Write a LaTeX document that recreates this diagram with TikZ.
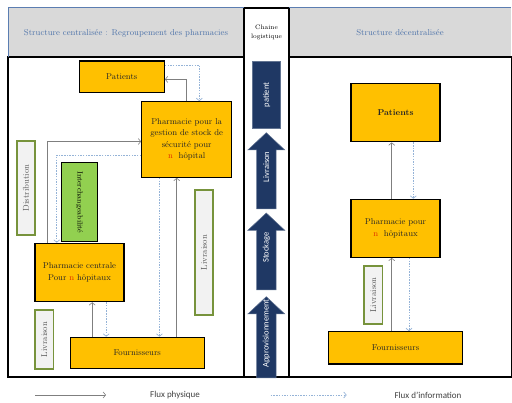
\documentclass[tikz,border=0pt]{standalone}
\usepackage{fontspec}
\newfontfamily\labelfont{Carlito}
\usetikzlibrary{arrows.meta}

\definecolor{unitfill}{HTML}{FFC000}
\definecolor{tagfill}{HTML}{F2F2F2}
\definecolor{tagline}{HTML}{77933C}
\definecolor{swapfill}{HTML}{92D050}
\definecolor{headfill}{HTML}{D9D9D9}
\definecolor{headtext}{HTML}{4F74AA}
\definecolor{headline}{HTML}{5B7DB1}
\definecolor{physgrey}{HTML}{7F7F7F}
\definecolor{infoblue}{HTML}{95B3D7}
\definecolor{chainblue}{HTML}{1F3864}
\definecolor{nred}{HTML}{E03000}

\begin{document}
\begin{tikzpicture}[
  x = 1pt, y = -1pt,
  every node/.style = {font=\fontsize{8.5}{11.5}\selectfont, inner sep=1pt, align=center},
  frame/.style = {draw, line width=1.1pt},
  unit/.style = {draw, line width=1.1pt, fill=unitfill, text=black!85},
  tag/.style = {draw=tagline, line width=1.3pt, fill=tagfill, text=black!65, rotate=90},
  phys/.style = {draw=physgrey, line width=0.6pt, -{Straight Barb[length=2.5pt, width=6pt]}},
  info/.style = {draw=infoblue, line width=0.7pt, dash pattern=on 1.5pt off 1.2pt,
                 -{Straight Barb[length=2.5pt, width=6pt]}},
  title/.style = {text=headtext},
  chain/.style = {fill=chainblue, draw=chainblue!70!white, line width=0.5pt},
  chaintext/.style = {font=\labelfont\fontsize{8.5}{10}\selectfont, text=white, rotate=90},
  legend/.style = {font=\labelfont\fontsize{9}{10}\selectfont, text=black!75},
]
\useasboundingbox (0,0) rectangle (512,403);

% panels and headers
\fill[headfill] (8,8) rectangle (244,57);
\fill[headfill] (289,8) rectangle (511.4,57);
\draw[frame] (8,57) rectangle (244,377);
\draw[frame] (244,8) rectangle (289,377);
\draw[frame] (289,57) rectangle (511.4,377);
\draw[headline, line width=1pt] (8,57) -- (8,8) -- (244,8);
\draw[headline, line width=1pt] (289,8) -- (511.4,8);

\node[title] (hleft)  at (126,33) {Structure centralisée : Regroupement des pharmacies};
\node[font=\fontsize{6.5}{9}\selectfont] (hmid) at (266.5,32.5) {Chaine\\logistique};
\node[title] (hright) at (400,33) {Structure décentralisée};

% centralised structure
\node[unit, minimum width=85, minimum height=31.7] (patients) at (121.8,76.9) {Patients};
\node[unit, minimum width=90, minimum height=75.6] (pstock) at (186.7,139.5)
  {Pharmacie pour la\\gestion de stock de\\sécurité pour\\\textcolor{nred}{n}\ \ hôpital};
\node[unit, minimum width=89, minimum height=58.4] (pcent) at (79.5,272.5)
  {Pharmacie centrale\\Pour \textcolor{nred}{n} hôpitaux};
\node[unit, minimum width=134.3, minimum height=31] (fourn) at (137.2,352.8) {Fournisseurs};

\node[tag, minimum width=94, minimum height=18] (distrib) at (26,188) {Distribution};
\node[draw, line width=1.1pt, fill=swapfill, rotate=-90, minimum width=78.7, minimum height=35.6,
      font=\fontsize{7.5}{8}\selectfont] (swap) at (79.5,202.3) {Interchangeabilité};
\node[tag, minimum width=125, minimum height=18] (livA) at (204,252.5) {Livraison};
\node[tag, minimum width=59, minimum height=18.3] (livB) at (44.2,339.5) {Livraison};

\draw[phys] (pstock.north) |- ([yshift=-2.5pt]patients.east);
\draw[info] ([yshift=12pt]patients.east) -| ([xshift=12.6pt]pstock.north);
\draw[phys] ([xshift=13.3pt]pcent.north west) |- ([yshift=-2pt]pstock.west);
\draw[info] ([yshift=-15.5pt]pstock.west) -| ([xshift=22.3pt]pcent.north west);
\draw[phys] ([xshift=22.7pt]fourn.north west) -- ([xshift=22.7pt]fourn.north west |- pcent.south);
\draw[info] ([xshift=36.7pt]fourn.north west |- pcent.south) -- ([xshift=36.7pt]fourn.north west);
\draw[info] ([xshift=18.3pt]pstock.south west) -- ([xshift=18.3pt]pstock.south west |- fourn.north);
\draw[phys] ([xshift=35.6pt]pstock.south west |- fourn.north) -- ([xshift=35.6pt]pstock.south west);

% supply chain column
\node[chain, chaintext, minimum width=66.3, minimum height=28] (cpatient) at (266.7,94.9) {patient};
\foreach \tip/\bot/\lbl in {132.7/209/Livraison, 213/290/Stockage, 296.7/378/Approvisionnement} {
  \filldraw[chain] (266.3,\tip) -- (284.8,\tip+17.3) -- (276,\tip+17.3) -- (276,\bot)
    -- (256.7,\bot) -- (256.7,\tip+17.3) -- (247.8,\tip+17.3) -- cycle;
  \node[chaintext] (chain-\lbl) at (266.3,{(\tip+\bot)/2-4}) {\lbl};
}

% decentralised structure
\node[unit, minimum width=89, minimum height=58.7, font=\bfseries\fontsize{8.5}{11.5}\selectfont]
  (rpatients) at (395.5,112.5) {Patients};
\node[unit, minimum width=89, minimum height=58] (rpharm) at (395.5,228.3)
  {Pharmacie pour\\\textcolor{nred}{n}\ \ hôpitaux};
\node[unit, minimum width=134.4, minimum height=32.3] (rfourn) at (395.5,347.9) {Fournisseurs};
\node[tag, minimum width=58, minimum height=18.7] (rliv) at (373.3,295) {Livraison};

\draw[phys] ([xshift=-3.8pt]rpharm.north) -- ([xshift=-3.8pt]rpatients.south);
\draw[info] ([xshift=17.8pt]rpatients.south) -- ([xshift=17.8pt]rpharm.north);
\draw[phys] ([xshift=-3.8pt]rfourn.north) -- ([xshift=-3.8pt]rpharm.south);
\draw[info] ([xshift=13.5pt]rpharm.south) -- ([xshift=13.5pt]rfourn.north);

% legend
\coordinate (physA) at (35,395);
\coordinate (physB) at (106,395);
\coordinate (infoA) at (270.7,395);
\coordinate (infoB) at (346.7,395);
\draw[phys] (physA) -- (physB);
\draw[info] (infoA) -- (infoB);
\node[legend] (lphys) at (175,395) {Flux physique};
\node[legend] (linfo) at (428,395) {Flux d’information};

\end{tikzpicture}
\end{document}
